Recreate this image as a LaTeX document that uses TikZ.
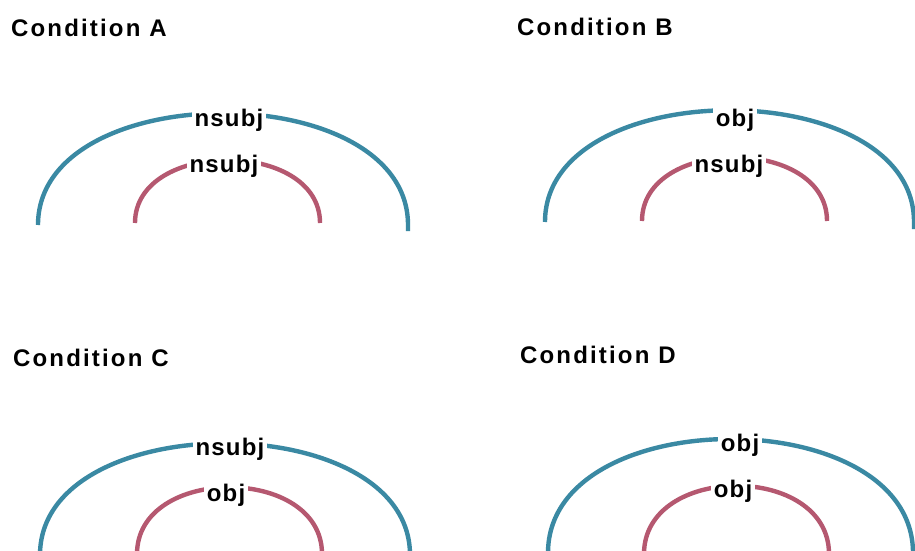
\documentclass[tikz,border=0pt]{standalone}
\usepackage{fontspec}
\newfontfamily\lblfont{Liberation Sans}[LetterSpace=5]
\newfontfamily\ttlfont{Liberation Sans}[LetterSpace=9]
\usetikzlibrary{calc}
\definecolor{arcblue}{RGB}{58,137,163}
\definecolor{arcred}{RGB}{181,88,112}
\begin{document}
\begin{tikzpicture}[x=1pt,y=-1pt,
  title/.style={anchor=base west,inner sep=0pt,font=\ttlfont\bfseries\fontsize{24}{28}\selectfont},
  lbl/.style={anchor=base,fill=white,inner xsep=3pt,inner ysep=1pt,font=\lblfont\bfseries\fontsize{24}{28}\selectfont},
  bluearc/.style={draw=arcblue,line width=4.4pt},
  redarc/.style={draw=arcred,line width=4.4pt}]
\useasboundingbox (0,0) rectangle (915,551);
\clip (0,0) rectangle (915,551);
% ---------- Condition A ----------
\node[title] (tA) at (11,37) {Condition A};
\coordinate (A1) at (38,225); \coordinate (A2) at (408,225); \coordinate (A2e) at (408,231);
\coordinate (a1) at (135,223); \coordinate (a2) at (320,223);
\path[bluearc] (A1) .. controls ($(A1)+(0,-149)$) and ($(A2)+(0,-149)$) .. (A2) -- (A2e);
\path[redarc] (a1) .. controls ($(a1)+(0,-84)$) and ($(a2)+(0,-84)$) .. (a2);
\node[lbl] (lA1) at (229,126) {nsubj};
\node[lbl] (lA2) at (224,172) {nsubj};
% ---------- Condition B ----------
\node[title] (tB) at (517,36) {Condition B};
\coordinate (B1) at (545,222); \coordinate (B2) at (914,222); \coordinate (B2e) at (914,229);
\coordinate (b1) at (642,221); \coordinate (b2) at (827,221);
\path[bluearc] (B1) .. controls ($(B1)+(0,-149)$) and ($(B2)+(0,-149)$) .. (B2) -- (B2e);
\path[redarc] (b1) .. controls ($(b1)+(0,-85)$) and ($(b2)+(0,-85)$) .. (b2);
\node[lbl] (lB1) at (735,126) {obj};
\node[lbl] (lB2) at (729,172) {nsubj};
% ---------- Condition C ----------
\node[title] (tC) at (13,366) {Condition C};
\coordinate (C1) at (40,555); \coordinate (C2) at (410,555);
\coordinate (c1) at (137,554); \coordinate (c2) at (322,554);
\path[bluearc] (C1) .. controls ($(C1)+(0,-149)$) and ($(C2)+(0,-149)$) .. (C2);
\path[redarc] (c1) .. controls ($(c1)+(0,-89)$) and ($(c2)+(0,-89)$) .. (c2);
\node[lbl] (lC1) at (230,455) {nsubj};
\node[lbl] (lC2) at (226,501) {obj};
% ---------- Condition D ----------
\node[title] (tD) at (520,363) {Condition D};
\coordinate (D1) at (548,553); \coordinate (D2) at (913,553);
\coordinate (d1) at (644,554); \coordinate (d2) at (829,554);
\path[bluearc] (D1) .. controls ($(D1)+(0,-152)$) and ($(D2)+(0,-152)$) .. (D2);
\path[redarc] (d1) .. controls ($(d1)+(0,-91)$) and ($(d2)+(0,-91)$) .. (d2);
\node[lbl] (lD1) at (740,451) {obj};
\node[lbl] (lD2) at (733,497) {obj};
\end{tikzpicture}
\end{document}
